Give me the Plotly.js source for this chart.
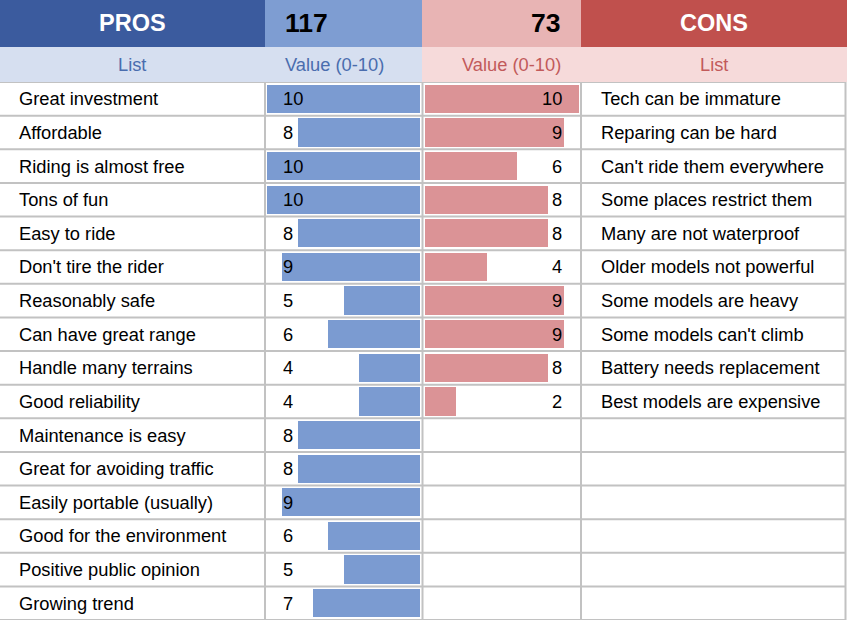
<!DOCTYPE html>
<html>
<head>
<meta charset="utf-8">
<script src="https://cdn.plot.ly/plotly-3.0.1.min.js"></script>
<style>
html,body{margin:0;padding:0;background:#fff;}
#chart{width:847px;height:620px;}
</style>
</head>
<body>
<div id="chart"></div>
<script>
// ---- data ----
const prosLabels = ["Great investment","Affordable","Riding is almost free","Tons of fun","Easy to ride","Don't tire the rider","Reasonably safe","Can have great range","Handle many terrains","Good reliability","Maintenance is easy","Great for avoiding traffic","Easily portable (usually)","Good for the environment","Positive public opinion","Growing trend"];
const prosValues = [10,8,10,10,8,9,5,6,4,4,8,8,9,6,5,7];
const consLabels = ["Tech can be immature","Reparing can be hard","Can't ride them everywhere","Some places restrict them","Many are not waterproof","Older models not powerful","Some models are heavy","Some models can't climb","Battery needs replacement","Best models are expensive"];
const consValues = [10,9,6,8,8,4,9,9,8,2];
const headerPros = "PROS", headerCons = "CONS";
const subList = "List", subValue = "Value (0-10)";

// ---- layout helpers ----
const W = 847, H = 620;
const nRows = prosLabels.length;
const px = v => v / W;
const py = v => 1 - v / H;   // pixel from top -> paper
const FONT = "Liberation Sans, Arial, sans-serif";
const FS = 18.3;

const C = {
  prosHead: "#3B5B9E", prosTotal: "#7E9DD2", prosBar: "#7B9BD1", prosSub: "#D6DFF0", prosSubText: "#4A6DAE",
  consHead: "#C0504D", consTotal: "#E8B4B4", consBar: "#DB9396", consSub: "#F6DADA", consSubText: "#C25A5A",
  grid: "#C2C2C2"
};

const rowsIdx = prosValues.map((_, i) => i);
const consIdx = consValues.map((_, i) => i);

const traces = [
  { type: "bar", orientation: "h", x: prosValues, y: rowsIdx, xaxis: "x", yaxis: "y",
    marker: { color: C.prosBar }, width: 0.84, hoverinfo: "skip" },
  { type: "bar", orientation: "h", x: consValues, y: consIdx, xaxis: "x2", yaxis: "y",
    marker: { color: C.consBar }, width: 0.84, hoverinfo: "skip" }
];

const sum = a => a.reduce((s, v) => s + v, 0);

const shapes = [];
// header cells
const rect = (x0, x1, y0, y1, col) => shapes.push({ type: "rect", xref: "paper", yref: "paper",
  x0: px(x0), x1: px(x1), y0: py(y1), y1: py(y0), fillcolor: col, line: { width: 0 }, layer: "below" });
rect(0, 265, 0, 47, C.prosHead);
rect(265, 422, 0, 47, C.prosTotal);
rect(422, 581, 0, 47, C.consTotal);
rect(581, 847, 0, 47, C.consHead);
rect(0, 422, 47, 82, C.prosSub);
rect(422, 847, 47, 82, C.consSub);

// horizontal grid lines at row boundaries
for (let k = 0; k <= nRows; k++) {
  shapes.push({ type: "line", xref: "paper", yref: "y", x0: 0, x1: px(846), y0: k - 0.5, y1: k - 0.5,
    line: { color: C.grid, width: 2 }, layer: "above" });
}
// vertical grid lines
[265, 422.5, 581, 845.5].forEach(x => shapes.push({ type: "line", xref: "paper", yref: "y",
  x0: px(x), x1: px(x), y0: -0.5, y1: nRows - 0.5, line: { color: C.grid, width: 2 }, layer: "above" }));

const ann = [];
const txt = (o) => ann.push(Object.assign({ showarrow: false, borderpad: 0 }, o));
// headers
txt({ xref: "paper", yref: "paper", x: px(132), y: py(23.5), text: "<b>" + headerPros + "</b>", font: { family: FONT, size: 23.5, color: "#fff" }, xanchor: "center", yanchor: "middle" });
txt({ xref: "paper", yref: "paper", x: px(284), y: py(23.5), text: "<b>" + sum(prosValues) + "</b>", font: { family: FONT, size: 26.5, color: "#000" }, xanchor: "left", yanchor: "middle" });
txt({ xref: "paper", yref: "paper", x: px(561), y: py(23.5), text: "<b>" + sum(consValues) + "</b>", font: { family: FONT, size: 26.5, color: "#000" }, xanchor: "right", yanchor: "middle" });
txt({ xref: "paper", yref: "paper", x: px(714), y: py(23.5), text: "<b>" + headerCons + "</b>", font: { family: FONT, size: 23.5, color: "#fff" }, xanchor: "center", yanchor: "middle" });
// sub headers
txt({ xref: "paper", yref: "paper", x: px(132), y: py(64.5), text: subList, font: { family: FONT, size: FS, color: C.prosSubText }, xanchor: "center", yanchor: "middle" });
txt({ xref: "paper", yref: "paper", x: px(334), y: py(64.5), text: subValue, font: { family: FONT, size: FS, color: C.prosSubText }, xanchor: "center", yanchor: "middle" });
txt({ xref: "paper", yref: "paper", x: px(511), y: py(64.5), text: subValue, font: { family: FONT, size: FS, color: C.consSubText }, xanchor: "center", yanchor: "middle" });
txt({ xref: "paper", yref: "paper", x: px(714), y: py(64.5), text: subList, font: { family: FONT, size: FS, color: C.consSubText }, xanchor: "center", yanchor: "middle" });

// list labels and values
prosLabels.forEach((l, i) => {
  txt({ xref: "paper", yref: "y", x: px(18), y: i, text: l, font: { family: FONT, size: FS, color: "#000" }, xanchor: "left", yanchor: "middle" });
  txt({ xref: "x", yref: "y", x: 9.05, y: i, text: String(prosValues[i]), font: { family: FONT, size: FS, color: "#000" }, xanchor: "left", yanchor: "middle" });
});
consLabels.forEach((l, i) => {
  txt({ xref: "paper", yref: "y", x: px(600), y: i, text: l, font: { family: FONT, size: FS, color: "#000" }, xanchor: "left", yanchor: "middle" });
  txt({ xref: "x2", yref: "y", x: 8.96, y: i, text: String(consValues[i]), font: { family: FONT, size: FS, color: "#000" }, xanchor: "right", yanchor: "middle" });
});

const hidden = { showgrid: false, zeroline: false, showticklabels: false, ticks: "", showline: false, fixedrange: true };

const layout = {
  width: W, height: H,
  margin: { l: 0, r: 0, t: 0, b: 0, pad: 0 },
  paper_bgcolor: "#fff", plot_bgcolor: "rgba(0,0,0,0)",
  showlegend: false,
  bargap: 0,
  xaxis: Object.assign({ domain: [px(265), px(422)], range: [10.13, -0.13] }, hidden),
  xaxis2: Object.assign({ domain: [px(422), px(581)], range: [-0.195, 10.13], anchor: "y" }, hidden),
  yaxis: Object.assign({ domain: [0, py(82)], range: [nRows - 0.5, -0.5] }, hidden),
  shapes: shapes,
  annotations: ann
};

Plotly.newPlot("chart", traces, layout, { displayModeBar: false, staticPlot: true });
</script>
</body>
</html>
